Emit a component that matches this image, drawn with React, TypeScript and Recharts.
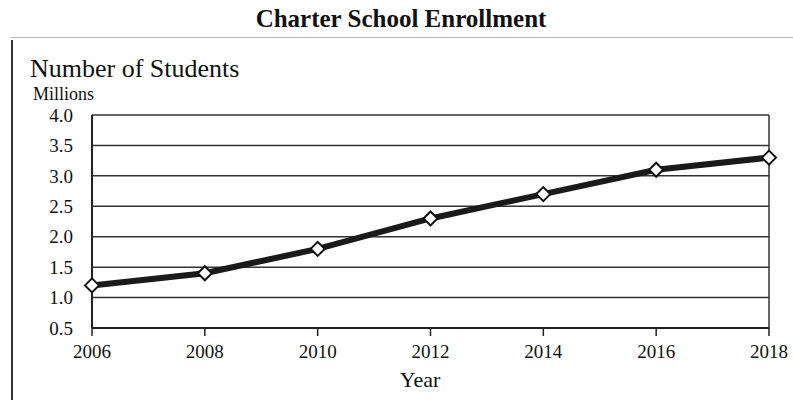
import React from "react";
import { LineChart, Line, XAxis, YAxis, CartesianGrid, ReferenceLine } from "recharts";

const years = [2006, 2008, 2010, 2012, 2014, 2016, 2018];
const students = [1.2, 1.4, 1.8, 2.3, 2.7, 3.1, 3.3];
const yTicks = [0.5, 1.0, 1.5, 2.0, 2.5, 3.0, 3.5, 4.0];
const xTicks = [2006, 2008, 2010, 2012, 2014, 2016, 2018];

const data = years.map((y, i) => ({ year: y, value: students[i] }));

const FONT = "'Liberation Serif', 'DejaVu Serif', serif";

const Diamond = (props: any) => {
  const { cx, cy, index } = props;
  if (cx == null || cy == null) return null;
  const r = 7;
  return (
    <path
      key={index}
      d={`M${cx},${cy - r} L${cx + r},${cy} L${cx},${cy + r} L${cx - r},${cy} Z`}
      fill="#fff"
      stroke="#111"
      strokeWidth={2}
    />
  );
};

export default function App() {
  return (
    <div style={{ position: "absolute", left: 0, top: 0, width: 793, height: 400, background: "#fff", fontFamily: FONT }}>
      <div style={{ position: "absolute", left: 201, width: 400, top: 5, textAlign: "center", fontWeight: "bold", fontSize: 25, color: "#111" }}>
        Charter School Enrollment
      </div>
      <div style={{ position: "absolute", left: 10, top: 37, width: 783, height: 0, borderTop: "1px solid #bbb" }} />
      <div style={{ position: "absolute", left: 11, top: 40, width: 0, height: 360, borderLeft: "2px solid #333" }} />
      <div style={{ position: "absolute", left: 30, top: 54, fontSize: 26, color: "#111" }}>Number of Students</div>
      <div style={{ position: "absolute", left: 33, top: 84, fontSize: 18, color: "#111" }}>Millions</div>
      <div style={{ position: "absolute", left: 320, width: 200, top: 367, textAlign: "center", fontSize: 22, color: "#111" }}>
        Year
      </div>
      <LineChart
        width={793}
        height={400}
        data={data}
        margin={{ top: 115, right: 24, bottom: 42, left: 42 }}
        style={{ position: "absolute", left: 0, top: 0 }}
      >
        <CartesianGrid horizontal={true} vertical={false} stroke="#333" strokeWidth={1.5} />
        <XAxis
          dataKey="year"
          type="number"
          domain={[2006, 2018]}
          ticks={xTicks}
          height={30}
          axisLine={{ stroke: "#222", strokeWidth: 2 }}
          tickLine={{ stroke: "#222", strokeWidth: 1.5 }}
          tickSize={8}
          tickMargin={9}
          tick={{ fill: "#111", fontSize: 19, fontFamily: FONT }}
        />
        <YAxis
          type="number"
          domain={[0.5, 4.0]}
          ticks={yTicks}
          width={50}
          axisLine={{ stroke: "#222", strokeWidth: 2 }}
          tickLine={false}
          tickSize={6}
          tickMargin={13}
          tickFormatter={(v: number) => v.toFixed(1)}
          tick={{ fill: "#111", fontSize: 19, fontFamily: FONT }}
        />
        <ReferenceLine x={2018} stroke="#333" strokeWidth={1.5} />
        <Line
          type="linear"
          dataKey="value"
          stroke="#1a1a1a"
          strokeWidth={6}
          dot={<Diamond />}
          activeDot={false}
          isAnimationActive={false}
        />
      </LineChart>
    </div>
  );
}
